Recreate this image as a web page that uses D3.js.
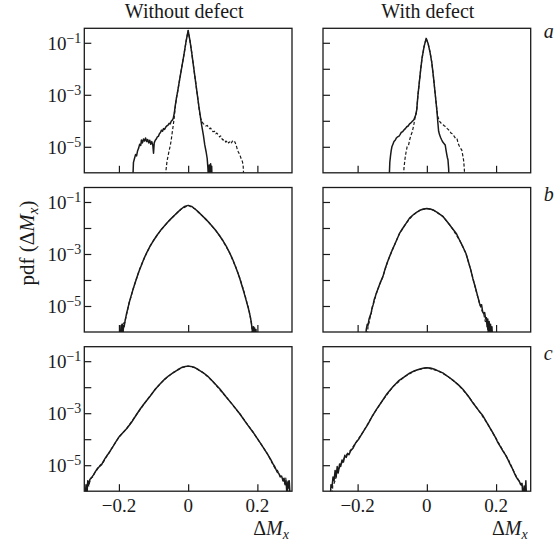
<!DOCTYPE html>
<html><head><meta charset="utf-8">
<script src="https://cdn.jsdelivr.net/npm/d3@7"></script>
<style>
html,body{margin:0;padding:0;background:#fff;}
svg{display:block;}
text{font-family:"Liberation Serif","Times New Roman",serif;fill:#1a1a1a;}
</style></head>
<body>
<svg id="chart" width="556" height="546"></svg>
<script>
// ---------- data (x = ΔMx, v = log10 pdf) ----------
const columnTitles = ["Without defect", "With defect"];
const rowLetters = ["a", "b", "c"];
const xTicks = [-0.2, 0, 0.2];
const xTickLabels = ["\u22120.2", "0", "0.2"];
const yTickExps = [-1, -2, -3, -4, -5];
const yLabelExps = [-1, -3, -5];

// Row a, without defect
const aWithoutSolid = [[-0.160,-6.3],[-0.158,-5.6],[-0.155,-5.45],[-0.152,-5.3],[-0.149,-5.35],[-0.146,-5.15],[-0.143,-5.05],[-0.140,-4.9],[-0.137,-4.95],[-0.135,-4.74],[-0.132,-4.85],[-0.129,-4.7],[-0.126,-4.78],[-0.123,-4.66],[-0.120,-4.8],[-0.117,-4.72],[-0.114,-4.85],[-0.111,-4.75],[-0.108,-4.9],[-0.105,-4.8],[-0.102,-4.95],[-0.100,-5.25],[-0.098,-4.85],[-0.095,-4.75],[-0.092,-4.7],[-0.089,-4.62],[-0.086,-4.6],[-0.083,-4.5],[-0.080,-4.45],[-0.077,-4.36],[-0.074,-4.4],[-0.071,-4.3],[-0.068,-4.33],[-0.065,-4.25],[-0.062,-4.2],[-0.058,-4.17],[-0.055,-4.1],[-0.052,-4.12],[-0.049,-4.02],[-0.046,-3.98],[-0.043,-3.91],[-0.040,-3.7],[-0.037,-3.4],[-0.034,-3.14],[-0.030,-2.85],[-0.025,-2.45],[-0.019,-1.98],[-0.012,-1.45],[-0.006,-0.95],[0.000,-0.53],[0.005,-0.9],[0.010,-1.35],[0.017,-2.05],[0.024,-2.75],[0.031,-3.45],[0.039,-4.17],[0.044,-4.55],[0.048,-4.93],[0.052,-5.2],[0.055,-5.45],[0.057,-5.8],[0.059,-6.3],[0.061,-5.7],[0.063,-6.3],[0.065,-5.65],[0.066,-6.3],[0.068,-5.75],[0.069,-6.3]];
const aWithoutDashed = [[-0.066,-6.3],[-0.064,-5.9],[-0.061,-5.55],[-0.058,-5.35],[-0.055,-5.15],[-0.052,-4.98],[-0.049,-4.75],[-0.046,-4.45],[-0.043,-4.17],[-0.040,-3.85],[-0.037,-3.45],[-0.034,-3.14],[-0.030,-2.85],[-0.025,-2.45],[-0.019,-1.98],[-0.012,-1.45],[-0.006,-0.95],[0.000,-0.53],[0.005,-0.9],[0.010,-1.35],[0.017,-2.05],[0.024,-2.75],[0.030,-3.35],[0.034,-3.78],[0.036,-3.9],[0.040,-4.02],[0.043,-4.10],[0.047,-4.15],[0.051,-4.2],[0.055,-4.18],[0.058,-4.23],[0.062,-4.3],[0.065,-4.28],[0.069,-4.38],[0.072,-4.42],[0.076,-4.4],[0.080,-4.5],[0.083,-4.47],[0.087,-4.55],[0.091,-4.62],[0.094,-4.58],[0.098,-4.7],[0.101,-4.74],[0.105,-4.72],[0.109,-4.82],[0.113,-4.76],[0.117,-4.85],[0.120,-4.81],[0.124,-4.88],[0.128,-4.78],[0.131,-4.84],[0.135,-4.81],[0.139,-4.95],[0.142,-5.1],[0.145,-5.2],[0.149,-5.3],[0.153,-5.45],[0.157,-5.58],[0.159,-5.75],[0.161,-6.3]];
// Row a, with defect
const aWithSolid = [[-0.109,-6.3],[-0.107,-5.6],[-0.105,-5.35],[-0.103,-5.15],[-0.101,-5.0],[-0.098,-4.9],[-0.095,-4.8],[-0.091,-4.74],[-0.088,-4.66],[-0.085,-4.62],[-0.081,-4.6],[-0.077,-4.52],[-0.074,-4.45],[-0.070,-4.42],[-0.066,-4.35],[-0.062,-4.3],[-0.058,-4.23],[-0.054,-4.2],[-0.050,-4.12],[-0.046,-4.08],[-0.042,-4.02],[-0.038,-3.97],[-0.034,-3.85],[-0.031,-3.72],[-0.029,-3.55],[-0.026,-3.05],[-0.022,-2.55],[-0.018,-2.05],[-0.014,-1.6],[-0.008,-1.15],[-0.002,-0.83],[0.004,-1.05],[0.009,-1.35],[0.014,-1.73],[0.019,-2.3],[0.024,-2.95],[0.029,-3.6],[0.032,-4.1],[0.034,-4.4],[0.037,-4.55],[0.040,-4.65],[0.043,-4.74],[0.046,-4.82],[0.050,-4.88],[0.053,-4.93],[0.055,-5.1],[0.057,-5.25],[0.059,-5.4],[0.061,-5.5],[0.063,-5.85],[0.064,-6.3]];
const aWithDashed = [[-0.068,-6.3],[-0.066,-5.8],[-0.063,-5.45],[-0.060,-5.2],[-0.057,-5.0],[-0.053,-4.95],[-0.050,-4.75],[-0.047,-4.6],[-0.043,-4.45],[-0.040,-4.3],[-0.037,-4.1],[-0.034,-3.85],[-0.031,-3.72],[-0.029,-3.55],[-0.026,-3.05],[-0.022,-2.55],[-0.018,-2.05],[-0.014,-1.6],[-0.008,-1.15],[-0.002,-0.83],[0.004,-1.05],[0.009,-1.35],[0.014,-1.73],[0.019,-2.3],[0.024,-2.95],[0.029,-3.6],[0.032,-3.85],[0.036,-4.0],[0.040,-4.08],[0.043,-4.1],[0.047,-4.15],[0.051,-4.2],[0.055,-4.23],[0.059,-4.3],[0.063,-4.35],[0.067,-4.42],[0.071,-4.49],[0.075,-4.5],[0.079,-4.6],[0.083,-4.68],[0.087,-4.68],[0.090,-4.85],[0.093,-4.95],[0.097,-5.05],[0.101,-5.13],[0.104,-5.35],[0.106,-5.5],[0.108,-5.8],[0.110,-6.3]];

// Row b, without defect
const bWithoutSolid = [[-0.196,-6.3],[-0.194,-5.75],[-0.193,-6.3],[-0.191,-5.7],[-0.189,-6.3],[-0.187,-5.75],[-0.185,-5.8],[-0.182,-5.55],[-0.178,-5.3],[-0.174,-5.08],[-0.170,-4.86],[-0.165,-4.62],[-0.160,-4.4],[-0.155,-4.18],[-0.150,-3.98],[-0.145,-3.78],[-0.140,-3.6],[-0.135,-3.43],[-0.130,-3.26],[-0.125,-3.1],[-0.120,-2.96],[-0.115,-2.83],[-0.110,-2.7],[-0.105,-2.59],[-0.100,-2.48],[-0.090,-2.28],[-0.080,-2.1],[-0.070,-1.94],[-0.060,-1.79],[-0.050,-1.65],[-0.040,-1.52],[-0.030,-1.39],[-0.020,-1.27],[-0.010,-1.17],[0.000,-1.13],[0.010,-1.17],[0.020,-1.27],[0.030,-1.39],[0.040,-1.52],[0.050,-1.65],[0.060,-1.79],[0.070,-1.94],[0.080,-2.1],[0.090,-2.28],[0.100,-2.48],[0.105,-2.59],[0.110,-2.7],[0.115,-2.83],[0.120,-2.96],[0.125,-3.1],[0.130,-3.25],[0.135,-3.42],[0.140,-3.6],[0.145,-3.78],[0.150,-3.98],[0.155,-4.2],[0.160,-4.42],[0.165,-4.66],[0.170,-4.9],[0.175,-5.15],[0.179,-5.38],[0.182,-5.6],[0.185,-5.9],[0.187,-6.3],[0.189,-5.8],[0.190,-6.3],[0.192,-5.85],[0.193,-6.3],[0.196,-5.9],[0.197,-6.3]];
const bWithoutDashed = [[-0.192,-6.3],[-0.190,-5.7],[-0.188,-6.3],[-0.186,-5.65],[-0.183,-5.65],[-0.179,-5.38],[-0.175,-5.15],[-0.170,-4.84],[-0.165,-4.65],[-0.160,-4.38],[-0.150,-3.98],[-0.140,-3.58],[-0.130,-3.26],[-0.120,-2.96],[-0.110,-2.7],[-0.100,-2.48],[-0.080,-2.1],[-0.060,-1.79],[-0.040,-1.52],[-0.020,-1.27],[0.000,-1.13],[0.020,-1.27],[0.040,-1.52],[0.060,-1.79],[0.080,-2.1],[0.100,-2.48],[0.120,-2.96],[0.140,-3.58],[0.150,-3.96],[0.160,-4.38],[0.165,-4.62],[0.170,-4.88],[0.175,-5.1],[0.180,-5.45],[0.184,-5.75],[0.186,-6.3]];
// Row b, with defect
const bWithSolid = [[-0.177,-6.3],[-0.175,-5.9],[-0.172,-5.7],[-0.170,-5.75],[-0.167,-5.5],[-0.164,-5.38],[-0.161,-5.28],[-0.158,-5.05],[-0.155,-4.95],[-0.152,-4.75],[-0.149,-4.64],[-0.146,-4.51],[-0.140,-4.3],[-0.134,-4.08],[-0.127,-3.87],[-0.120,-3.55],[-0.114,-3.32],[-0.108,-3.11],[-0.100,-2.85],[-0.090,-2.55],[-0.079,-2.21],[-0.070,-2.02],[-0.060,-1.82],[-0.050,-1.62],[-0.040,-1.5],[-0.030,-1.4],[-0.020,-1.32],[-0.010,-1.27],[0.000,-1.25],[0.010,-1.27],[0.020,-1.32],[0.030,-1.4],[0.046,-1.55],[0.060,-1.78],[0.070,-1.95],[0.085,-2.21],[0.095,-2.48],[0.104,-2.72],[0.113,-2.98],[0.120,-3.3],[0.127,-3.62],[0.133,-3.95],[0.140,-4.28],[0.146,-4.58],[0.150,-4.78],[0.152,-4.89],[0.155,-5.0],[0.158,-4.95],[0.161,-5.2],[0.164,-5.3],[0.167,-5.25],[0.170,-5.5],[0.172,-5.45],[0.174,-5.8],[0.176,-5.5],[0.178,-6.3],[0.180,-5.6],[0.182,-6.3],[0.184,-5.7],[0.186,-6.3],[0.188,-5.8],[0.190,-6.3]];
const bWithDashed = [[-0.172,-6.3],[-0.170,-5.75],[-0.167,-5.65],[-0.164,-5.45],[-0.161,-5.3],[-0.158,-5.1],[-0.152,-4.8],[-0.146,-4.53],[-0.140,-4.3],[-0.127,-3.87],[-0.114,-3.32],[-0.100,-2.85],[-0.079,-2.21],[-0.060,-1.82],[-0.040,-1.5],[-0.020,-1.32],[0.000,-1.25],[0.020,-1.32],[0.046,-1.55],[0.070,-1.95],[0.095,-2.48],[0.113,-2.98],[0.127,-3.62],[0.140,-4.3],[0.150,-4.8],[0.156,-5.05],[0.160,-5.2],[0.165,-5.35],[0.169,-5.6],[0.173,-5.55],[0.176,-5.9],[0.179,-5.7],[0.181,-6.3]];

// Row c, without defect
const cWithoutSolid = [[-0.298,-6.3],[-0.295,-5.75],[-0.293,-6.3],[-0.290,-5.6],[-0.287,-5.75],[-0.284,-5.55],[-0.280,-5.5],[-0.274,-5.38],[-0.268,-5.25],[-0.262,-5.12],[-0.256,-5.05],[-0.250,-4.98],[-0.245,-4.85],[-0.240,-4.74],[-0.234,-4.62],[-0.228,-4.52],[-0.222,-4.38],[-0.216,-4.26],[-0.210,-4.12],[-0.200,-3.92],[-0.190,-3.77],[-0.178,-3.6],[-0.165,-3.38],[-0.150,-3.07],[-0.139,-2.85],[-0.125,-2.6],[-0.110,-2.35],[-0.095,-2.08],[-0.082,-1.89],[-0.070,-1.72],[-0.056,-1.56],[-0.043,-1.44],[-0.030,-1.33],[-0.018,-1.24],[-0.008,-1.2],[0.000,-1.19],[0.008,-1.2],[0.018,-1.24],[0.030,-1.33],[0.043,-1.44],[0.056,-1.57],[0.070,-1.76],[0.091,-2.06],[0.110,-2.38],[0.130,-2.7],[0.149,-3.02],[0.168,-3.38],[0.188,-3.74],[0.200,-3.98],[0.213,-4.24],[0.226,-4.51],[0.238,-4.77],[0.245,-4.95],[0.250,-5.05],[0.257,-5.26],[0.262,-5.32],[0.266,-5.45],[0.270,-5.42],[0.274,-5.6],[0.277,-5.5],[0.280,-5.75],[0.283,-5.62],[0.286,-6.3],[0.288,-5.65],[0.290,-5.85],[0.292,-5.6],[0.295,-6.3]];
const cWithoutDashed = [[-0.294,-6.3],[-0.291,-5.7],[-0.287,-5.8],[-0.282,-5.5],[-0.276,-5.45],[-0.270,-5.3],[-0.262,-5.15],[-0.254,-5.0],[-0.246,-4.9],[-0.238,-4.72],[-0.228,-4.5],[-0.216,-4.26],[-0.200,-3.92],[-0.178,-3.6],[-0.150,-3.07],[-0.125,-2.6],[-0.095,-2.08],[-0.070,-1.72],[-0.043,-1.44],[-0.018,-1.24],[0.000,-1.19],[0.018,-1.24],[0.043,-1.44],[0.070,-1.76],[0.110,-2.38],[0.149,-3.02],[0.188,-3.74],[0.213,-4.24],[0.230,-4.58],[0.240,-4.85],[0.250,-5.1],[0.258,-5.2],[0.265,-5.4],[0.272,-5.5],[0.278,-5.7],[0.282,-5.5],[0.285,-5.85],[0.289,-5.6],[0.292,-6.3]];
// Row c, with defect
const cWithSolid = [[-0.279,-6.3],[-0.277,-5.75],[-0.274,-5.85],[-0.271,-5.45],[-0.268,-5.6],[-0.265,-5.2],[-0.262,-5.45],[-0.259,-5.05],[-0.256,-5.3],[-0.252,-4.95],[-0.249,-5.05],[-0.245,-4.8],[-0.241,-4.88],[-0.237,-4.62],[-0.233,-4.7],[-0.229,-4.55],[-0.225,-4.6],[-0.220,-4.44],[-0.214,-4.36],[-0.206,-4.15],[-0.196,-3.98],[-0.185,-3.74],[-0.170,-3.42],[-0.158,-3.12],[-0.146,-2.86],[-0.130,-2.55],[-0.115,-2.25],[-0.098,-1.98],[-0.082,-1.76],[-0.065,-1.6],[-0.050,-1.46],[-0.035,-1.37],[-0.020,-1.3],[-0.008,-1.26],[0.000,-1.25],[0.010,-1.26],[0.022,-1.31],[0.034,-1.38],[0.046,-1.45],[0.060,-1.58],[0.078,-1.76],[0.092,-1.92],[0.104,-2.08],[0.120,-2.35],[0.135,-2.64],[0.150,-2.9],[0.162,-3.1],[0.175,-3.4],[0.190,-3.74],[0.200,-3.98],[0.204,-4.1],[0.212,-4.28],[0.220,-4.46],[0.228,-4.62],[0.234,-4.78],[0.240,-4.95],[0.246,-5.1],[0.252,-5.28],[0.258,-5.45],[0.263,-5.55],[0.267,-5.62],[0.271,-5.75],[0.275,-5.7],[0.278,-6.3],[0.281,-5.8],[0.283,-6.3],[0.286,-5.6],[0.288,-6.3]];
const cWithDashed = [[-0.274,-6.3],[-0.272,-5.8],[-0.268,-5.7],[-0.264,-5.55],[-0.260,-5.3],[-0.256,-5.2],[-0.250,-5.0],[-0.244,-4.88],[-0.237,-4.68],[-0.229,-4.56],[-0.220,-4.42],[-0.206,-4.15],[-0.185,-3.74],[-0.158,-3.12],[-0.130,-2.55],[-0.098,-1.98],[-0.065,-1.6],[-0.035,-1.37],[0.000,-1.25],[0.034,-1.38],[0.060,-1.58],[0.092,-1.92],[0.120,-2.35],[0.150,-2.9],[0.175,-3.4],[0.200,-3.98],[0.220,-4.44],[0.236,-4.8],[0.248,-5.15],[0.258,-5.42],[0.266,-5.6],[0.272,-5.72],[0.277,-5.85],[0.280,-6.3]];

const panels = [
  {row:0, col:0, solid:aWithoutSolid, dashed:aWithoutDashed},
  {row:0, col:1, solid:aWithSolid, dashed:aWithDashed},
  {row:1, col:0, solid:bWithoutSolid, dashed:bWithoutDashed},
  {row:1, col:1, solid:bWithSolid, dashed:bWithDashed},
  {row:2, col:0, solid:cWithoutSolid, dashed:cWithoutDashed},
  {row:2, col:1, solid:cWithSolid, dashed:cWithDashed}
];

// ---------- layout ----------
const colLeft = [84.3, 323];
const panelW = 207.7;
const rowTop = [28.3, 187.5, 346.7];
const panelH = 144.5;
const ink = "#1a1a1a";

const svg = d3.select("#chart");
const x = d3.scaleLinear().domain([-0.3, 0.3]).range([0, panelW]);
const y = d3.scaleLog().domain([1e-6, Math.pow(10, -0.443)]).range([panelH, 0]);

const defs = svg.append("defs");
defs.append("clipPath").attr("id", "clip")
  .append("rect").attr("x", 0).attr("y", 0).attr("width", panelW).attr("height", panelH);

const line = d3.line().x(d => x(d[0])).y(d => y(Math.pow(10, d[1])));

panels.forEach(p => {
  const g = svg.append("g").attr("transform", `translate(${colLeft[p.col]},${rowTop[p.row]})`);
  const plot = g.append("g").attr("clip-path", "url(#clip)");
  plot.append("path").datum(p.dashed).attr("d", line)
    .attr("fill", "none").attr("stroke", ink).attr("stroke-width", 1.2)
    .attr("stroke-dasharray", "3.2,2").attr("stroke-linejoin", "round");
  plot.append("path").datum(p.solid).attr("d", line)
    .attr("fill", "none").attr("stroke", ink).attr("stroke-width", 1.5)
    .attr("stroke-linejoin", "round");

  // inward ticks
  const yAxis = d3.axisLeft(y).tickValues(yTickExps.map(e => Math.pow(10, e)))
    .tickSize(-7).tickFormat("");
  const ya = g.append("g").call(yAxis);
  ya.select(".domain").remove();
  ya.selectAll("line").attr("stroke", ink).attr("stroke-width", 1.2);

  const xAxis = d3.axisBottom(x).tickValues(xTicks).tickSize(-7).tickFormat("");
  const xa = g.append("g").attr("transform", `translate(0,${panelH})`).call(xAxis);
  xa.select(".domain").remove();
  xa.selectAll("line").attr("stroke", ink).attr("stroke-width", 1.2);

  // frame
  g.append("rect").attr("x", 0).attr("y", 0).attr("width", panelW).attr("height", panelH)
    .attr("fill", "none").attr("stroke", ink).attr("stroke-width", 1.3);

  // y tick labels (left column only)
  if (p.col === 0) {
    yLabelExps.forEach(e => {
      const t = g.append("text").attr("x", -3).attr("y", y(Math.pow(10, e)) + 7)
        .attr("text-anchor", "end").attr("font-size", 19);
      t.append("tspan").text("10");
      t.append("tspan").attr("font-size", 14).attr("dy", -7).text("\u2212" + (-e));
    });
  }
  // x tick labels and axis label (bottom row only)
  if (p.row === 2) {
    xTicks.forEach((v, i) => {
      g.append("text").attr("x", x(v)).attr("y", panelH + 21)
        .attr("text-anchor", "middle").attr("font-size", 19).text(xTickLabels[i]);
    });
    const t = g.append("text").attr("x", panelW - 3).attr("y", panelH + 44)
      .attr("text-anchor", "end").attr("font-size", 20);
    t.append("tspan").text("\u0394");
    t.append("tspan").attr("font-style", "italic").text("M");
    t.append("tspan").attr("font-style", "italic").attr("font-size", 14).attr("dy", 4).text("x");
  }
  // column titles
  if (p.row === 0) {
    g.append("text").attr("x", p.col === 0 ? panelW / 2 - 4 : panelW / 2 + 1).attr("y", -10)
      .attr("text-anchor", "middle").attr("font-size", 20).text(columnTitles[p.col]);
  }
  // row letters
  if (p.col === 1) {
    g.append("text").attr("x", panelW + 13).attr("y", p.row === 0 ? 10 : 13)
      .attr("font-style", "italic").attr("font-size", 20).text(rowLetters[p.row]);
  }
});

// y axis title
const yt = svg.append("text").attr("transform", "translate(34,243) rotate(-90)")
  .attr("text-anchor", "middle").attr("font-size", 21);
yt.append("tspan").text("pdf (\u0394");
yt.append("tspan").attr("font-style", "italic").text("M");
yt.append("tspan").attr("font-style", "italic").attr("font-size", 15).attr("dy", 4).text("x");
yt.append("tspan").attr("dy", -4).text(")");
</script>
</body></html>
